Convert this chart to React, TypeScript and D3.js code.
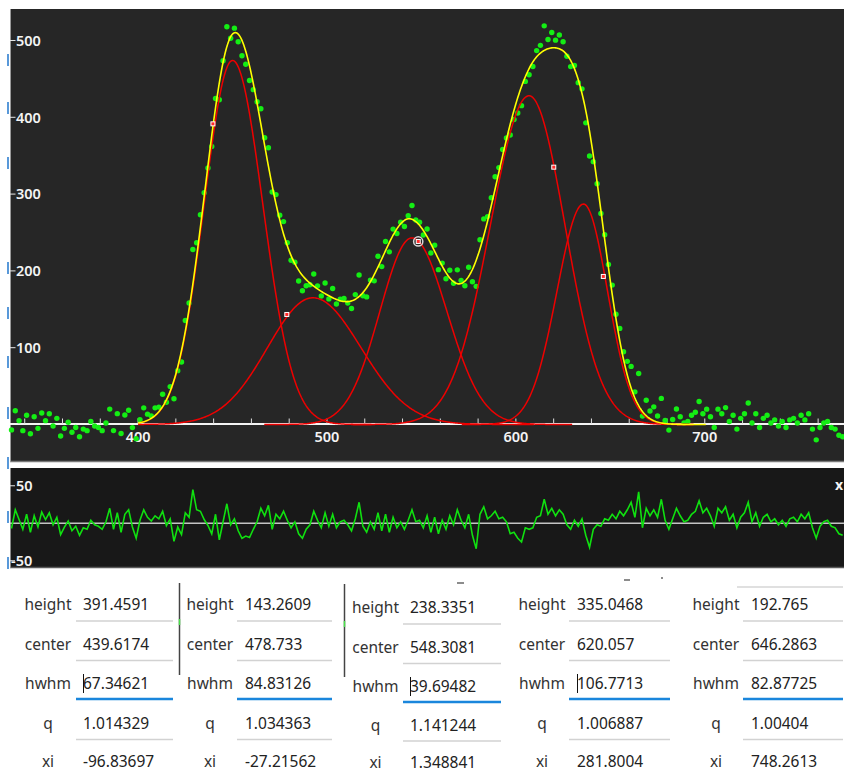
import React from 'react';
import * as d3 from 'd3';

// ---------- data ----------
const dataXStart = 333;
const dataXStep = 2;
// residual (data - fit), one value per data point
const residuals = [
  -7, 18, 5, -8, 12, -12, 10, -5, 15, 5,
  14, -2, 8, -15, -5, 3, -10, -4, -16, -6,
  -8, 4, -2, -4, -8, 2, 20, -8, 14, -12,
  12, 18, -5, -20, 4, 18, 8, 3, 10, 6,
  16, -3, 6, -24, -5, -15, 14, 8, 45, 18,
  16, 5, -3, -14, 12, -22, 2, 26, -2, 6,
  -10, -20, -17, -19, -8, 2, 20, 10, 24, -8,
  12, 6, 16, 4, -6, 2, -14, -20, -8, -2,
  16, 4, -6, 14, -4, 12, -6, 2, 4, -2,
  -10, 6, 28, -4, -12, 2, -8, 14, -10, 12,
  -12, 8, -6, 2, -8, 4, 18, 2, 4,
  -6, 10, -12, 8, -14, 4, -8, 10, -2, 18,
  4, -6, 12, -16, -34, 12, 22, 6, 10, 16,
  6, 8, 2, -14, -12, -20, -25, -6, -8, -6,
  8, 10, 32, 12, 20, 10, 18, 12, -2, -8,
  4, -4, 6, -16, -32, -8, -2, -4, 6, 4,
  12, 6, 16, 10, 18, 28, 8, 42, -6, 20,
  10, 18, 8, 32, 4, -8, 6, 20, 10, 2,
  4, 12, 16, 30, 14, 20, 10, -4, 20, 14,
  22, 4, 12, -6, 8, 14, 28, 2, 14, -4,
  8, 12, 2, 6, -2, 4, -4, 6, 8, 2,
  12, 6, 14, -6, -20, -4, 2, 4, -4, -6,
  -14, -16,
];

// fitted component peaks as drawn (red curves)
const peakCenters = [450, 492.5, 545, 607, 635.8];
const peakHeights = [474, 165, 243, 428, 287];
const peakSigmaLeft = [15, 24, 17, 20.5, 14];
const peakSigmaRight = [16, 25.5, 18.5, 19, 12.7];

// tick labels
const xTickLabels = [400, 500, 600, 700];
const yTickLabels = [100, 200, 300, 400, 500];
const residualTickLabels = [50, -50];

// parameter table
const paramNames = ['height', 'center', 'hwhm', 'q', 'xi'];
const paramHeight = ['391.4591', '143.2609', '238.3351', '335.0468', '192.765'];
const paramCenter = ['439.6174', '478.733', '548.3081', '620.057', '646.2863'];
const paramHwhm = ['67.34621', '84.83126', '39.69482', '106.7713', '82.87725'];
const paramQ = ['1.014329', '1.034363', '1.141244', '1.006887', '1.00404'];
const paramXi = ['-96.83697', '-27.21562', '1.348841', '281.8004', '748.2613'];
const selectedPeak = 2;

// ---------- helpers ----------
function peakValue(k: number, xv: number) {
  const c = peakCenters[k];
  const s = xv < c ? peakSigmaLeft[k] : peakSigmaRight[k];
  return peakHeights[k] * Math.exp(-((xv - c) ** 2) / (2 * s * s));
}
function fitValue(xv: number) {
  let s = 0;
  for (let k = 0; k < peakCenters.length; k++) s += peakValue(k, xv);
  return s;
}

const FONT = '"Noto Sans", "Open Sans", sans-serif';

export default function App() {
  const x = d3.scaleLinear().domain([332.2, 773.7]).range([10, 844]);
  const y = d3.scaleLinear().domain([0, 541]).range([424.5, 9]);
  const yR = d3.scaleLinear().domain([-58.3, 73.7]).range([567, 468]);

  const dataX = residuals.map((_, i) => dataXStart + i * dataXStep);
  const dataY = dataX.map((xv, i) => fitValue(xv) + residuals[i]);

  const line = d3.line<[number, number]>().x((d) => x(d[0])).y((d) => y(d[1]));
  const resLine = d3
    .line<number>()
    .x((_, i) => x(dataX[i]))
    .y((d) => yR(d));

  const redPaths = peakCenters.map((c, k) => {
    const lo = Math.max(400, c - 4.6 * peakSigmaLeft[k]);
    const hi = Math.min(703, c + 4.6 * peakSigmaRight[k]);
    const pts = d3.range(lo, hi, 0.5).map((xv) => [xv, peakValue(k, xv)] as [number, number]);
    return line(pts) || '';
  });
  const yellowPath =
    line(d3.range(400, 701, 0.5).map((xv) => [xv, fitValue(xv)] as [number, number])) || '';

  const minorTicks = d3.range(340, 772, 20);

  // table layout
  const colLabelCenter = [48, 210, 375.5, 542, 716];
  const colValueX = [83, 245, 410, 577, 751];
  const colLineX1 = [76, 237, 403, 569, 743];
  const colLineX2 = [173, 332, 501, 670, 843];
  const rowY = [605, 644.5, 684, 724, 762];
  const lineY = [621, 660.5, 699, 739.5];
  const colOffsets = [
    [0, 0, 0, 0, 0],
    [0, 0, 0, 0, 0],
    [3, 3, 3, 1.5, 1],
    [0, 0, 0, 0, 0],
    [0, 0, 0, 0, 0],
  ];
  const values = [paramHeight, paramCenter, paramHwhm, paramQ, paramXi];
  const cursorCols = [0, 2, 3];

  const blueFrag = [60, 108, 163, 268, 313, 362, 413, 463, 517, 563];

  return (
    <svg
      width={844}
      height={775}
      style={{ position: 'absolute', left: 0, top: 0, background: '#fff' }}
      fontFamily={FONT}
    >
      <rect x={0} y={0} width={844} height={775} fill="#ffffff" />
      {/* hidden UI fragments on the left */}
      {blueFrag.map((fy, i) => (
        <line key={i} x1={8} x2={8} y1={fy - 6} y2={fy + 6} stroke="#2f7fd0" strokeWidth={1.6} />
      ))}

      {/* ---------- main panel ---------- */}
      <rect x={10} y={9} width={834} height={452} fill="#262626" />
      <line x1={10} x2={844} y1={461.5} y2={461.5} stroke="#7a7a7a" strokeWidth={1.5} />
      <line x1={10.5} x2={10.5} y1={9} y2={462} stroke="#9a9a9a" strokeWidth={1} />

      {/* x axis */}
      <line x1={10} x2={844} y1={424} y2={424} stroke="#f4f4f4" strokeWidth={2} />
      {minorTicks.map((t) => (
        <line key={t} x1={x(t)} x2={x(t)} y1={418.5} y2={424} stroke="#e0e0e0" strokeWidth={1} />
      ))}
      {xTickLabels.map((t) => (
        <text key={t} x={x(t)} y={441.5} textAnchor="middle" fontSize={14.5} fontWeight={600} fill="#f4f4f4">
          {t}
        </text>
      ))}
      {/* y axis */}
      {yTickLabels.map((t) => (
        <g key={t}>
          <line x1={10} x2={15.5} y1={y(t)} y2={y(t)} stroke="#e8e8e8" strokeWidth={1} />
          <text x={16} y={y(t)} dy="0.36em" fontSize={14.5} fontWeight={600} fill="#f4f4f4">
            {t}
          </text>
        </g>
      ))}

      {/* data points */}
      {dataX.map((xv, i) => (
        <circle key={i} cx={x(xv)} cy={y(dataY[i])} r={2.7} fill="#14ee14" />
      ))}

      {/* component peaks */}
      {redPaths.map((p, k) => (
        <path key={k} d={p} fill="none" stroke="#ee0000" strokeWidth={1.5} />
      ))}
      {/* total fit */}
      <path d={yellowPath} fill="none" stroke="#ffff00" strokeWidth={1.6} />

      {/* parameter markers */}
      {paramCenter.map((c, k) => {
        const mx = x(parseFloat(c));
        const my = y(parseFloat(paramHeight[k]));
        return (
          <g key={k}>
            {k === selectedPeak && (
              <circle cx={mx} cy={my} r={4.6} fill="none" stroke="#d8d8d8" strokeWidth={1.5} />
            )}
            <rect x={mx - 2} y={my - 2} width={4} height={4} fill="#ff2a2a" stroke="#ffffff" strokeWidth={1} />
          </g>
        );
      })}

      {/* ---------- residual panel ---------- */}
      <rect x={10} y={468} width={834} height={99} fill="#181818" />
      <line x1={10} x2={844} y1={567.5} y2={567.5} stroke="#5a5a5a" strokeWidth={1.5} />
      <line x1={10.5} x2={10.5} y1={468} y2={568} stroke="#8a8a8a" strokeWidth={1} />
      <line x1={10} x2={844} y1={yR(0)} y2={yR(0)} stroke="#c4c4c4" strokeWidth={1.5} />
      <path d={resLine(residuals) || ''} fill="none" stroke="#10e010" strokeWidth={1.6} />
      {residualTickLabels.map((t) => (
        <g key={t}>
          <line x1={10} x2={15} y1={yR(t)} y2={yR(t)} stroke="#e8e8e8" strokeWidth={1} />
          <text x={t < 0 ? 11 : 16} y={yR(t)} dy="0.36em" fontSize={14.5} fontWeight={600} fill="#f4f4f4">
            {t}
          </text>
        </g>
      ))}
      <text x={835} y={490} fontSize={14} fontWeight="bold" fill="#f4f4f4">
        x
      </text>

      {/* ---------- parameter table ---------- */}
      <line x1={457} x2={464} y1={583} y2={583} stroke="#666" strokeWidth={1.5} />
      <line x1={624} x2={630} y1={580} y2={580} stroke="#666" strokeWidth={1.5} />
      <circle cx={662} cy={578} r={1} fill="#666" />
      <line x1={737} x2={843} y1={587} y2={587} stroke="#d6d6d6" strokeWidth={1.5} />
      <line x1={179.5} x2={179.5} y1={583} y2={675} stroke="#444" strokeWidth={1.5} />
      <line x1={344.5} x2={344.5} y1={584} y2={677} stroke="#444" strokeWidth={1.5} />
      <line x1={179.5} x2={179.5} y1={619} y2={625} stroke="#4be04b" strokeWidth={1.5} />
      <line x1={344.5} x2={344.5} y1={621} y2={627} stroke="#4be04b" strokeWidth={1.5} />

      {paramHeight.map((_, c) => (
        <g key={c}>
          {paramNames.map((name, r) => (
            <g key={name}>
              <text
                x={colLabelCenter[c]}
                y={rowY[r] + colOffsets[c][r]}
                dy="0.35em"
                textAnchor="middle"
                fontSize={15.5}
                fill="#333"
              >
                {name}
              </text>
              <text
                x={colValueX[c]}
                y={rowY[r] + colOffsets[c][r]}
                dy="0.35em"
                fontSize={15.5}
                fill="#222"
              >
                {values[r][c]}
              </text>
            </g>
          ))}
          {lineY.map((ly, r) => (
            <line
              key={r}
              x1={colLineX1[c]}
              x2={colLineX2[c]}
              y1={ly + colOffsets[c][r]}
              y2={ly + colOffsets[c][r]}
              stroke={r === 2 ? '#1a86dc' : '#d2d2d2'}
              strokeWidth={r === 2 ? 2.5 : 1.5}
            />
          ))}
          {cursorCols.includes(c) && (
            <line
              x1={colValueX[c] + 0.5}
              x2={colValueX[c] + 0.5}
              y1={rowY[2] + colOffsets[c][2] - 10}
              y2={rowY[2] + colOffsets[c][2] + 9}
              stroke="#111"
              strokeWidth={1}
            />
          )}
        </g>
      ))}
    </svg>
  );
}
